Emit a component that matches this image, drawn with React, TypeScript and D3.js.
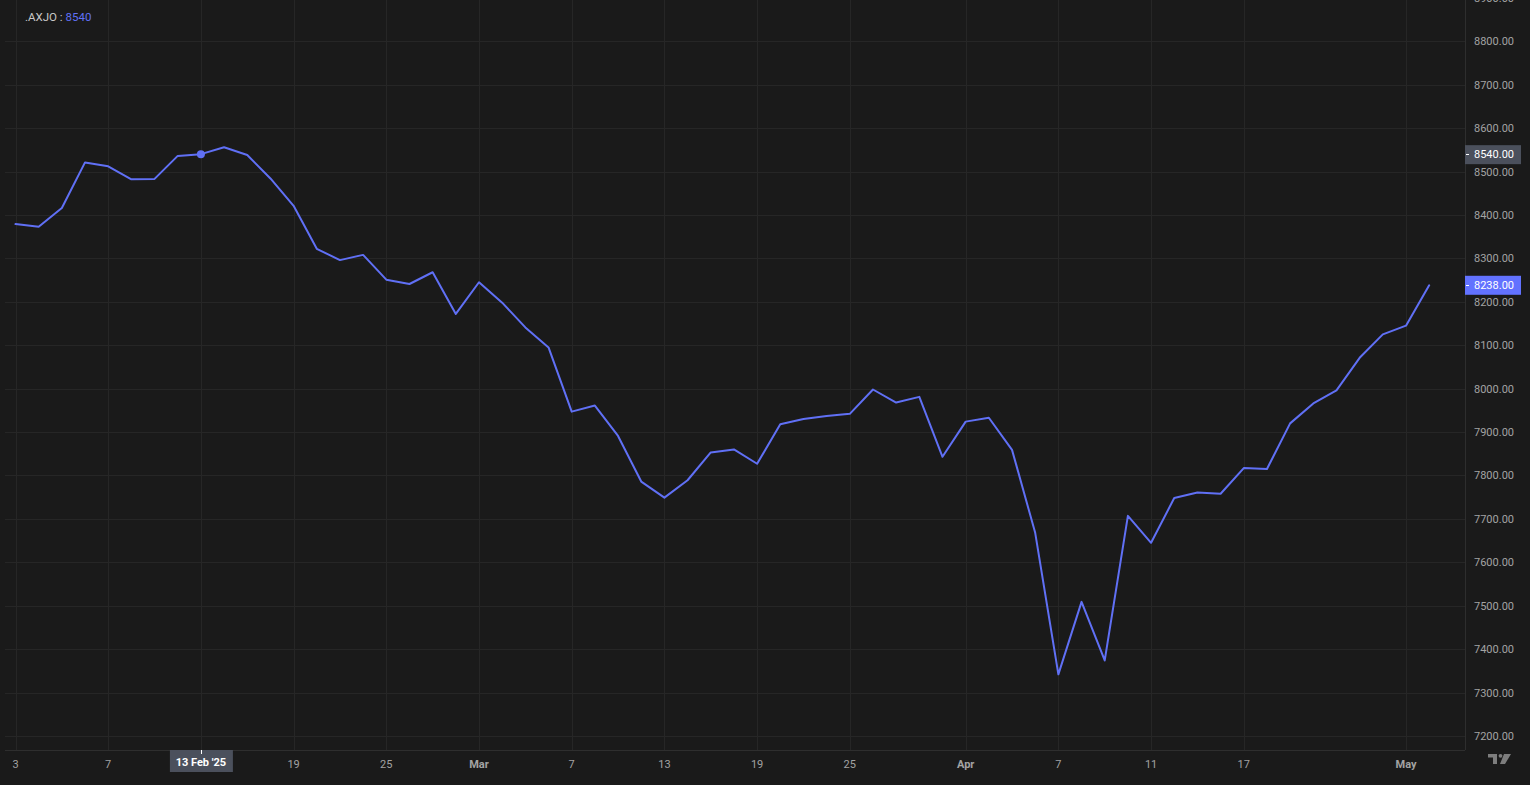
import React, { useEffect } from "react";
import * as d3 from "d3";

const dates: string[] = [
  "2025-02-03","2025-02-04","2025-02-05","2025-02-06","2025-02-07",
  "2025-02-10","2025-02-11","2025-02-12","2025-02-13","2025-02-14",
  "2025-02-17","2025-02-18","2025-02-19","2025-02-20","2025-02-21",
  "2025-02-24","2025-02-25","2025-02-26","2025-02-27","2025-02-28",
  "2025-03-03","2025-03-04","2025-03-05","2025-03-06","2025-03-07",
  "2025-03-10","2025-03-11","2025-03-12","2025-03-13","2025-03-14",
  "2025-03-17","2025-03-18","2025-03-19","2025-03-20","2025-03-21",
  "2025-03-24","2025-03-25","2025-03-26","2025-03-27","2025-03-28",
  "2025-03-31","2025-04-01","2025-04-02","2025-04-03","2025-04-04",
  "2025-04-07","2025-04-08","2025-04-09","2025-04-10","2025-04-11",
  "2025-04-14","2025-04-15","2025-04-16","2025-04-17","2025-04-22",
  "2025-04-23","2025-04-24","2025-04-28","2025-04-29","2025-04-30",
  "2025-05-01","2025-05-02"
];

const closes: number[] = [
  8379, 8373, 8416, 8521, 8512,
  8482, 8483, 8536, 8540, 8556,
  8538, 8484, 8421, 8322, 8296,
  8308, 8251, 8241, 8268, 8172,
  8245, 8198, 8141, 8095, 7947,
  7961, 7891, 7786, 7749, 7789,
  7853, 7860, 7827, 7918, 7930,
  7937, 7942, 7998, 7968, 7981,
  7843, 7924, 7933, 7859, 7668,
  7342, 7509, 7374, 7707, 7645,
  7748, 7761, 7758, 7817, 7815,
  7920, 7966, 7996, 8071, 8125,
  8145, 8238
];

const priceTicks: number[] = [7200, 7300, 7400, 7500, 7600, 7700, 7800, 7900, 8000, 8100, 8200, 8300, 8400, 8500, 8600, 8700, 8800, 8900];

const timeTickIndex: number[] = [0, 4, 8, 12, 16, 20, 24, 28, 32, 36, 41, 45, 49, 53, 60];
const timeTickLabel: string[] = ["3", "7", "13", "19", "25", "Mar", "7", "13", "19", "25", "Apr", "7", "11", "17", "May"];
const timeTickBold: boolean[] = [false, false, false, false, false, true, false, false, false, false, true, false, false, false, true];

const symbol = ".AXJO";
const hoverIndex = 8;
const hoverLabel = "13 Feb '25";

const W = 1530;
const H = 785;
const PLOT_RIGHT = 1465;
const PLOT_BOTTOM = 750;

const BG = "#1a1a1a";
const GRID = "#262626";
const BORDER = "#2e2e2e";
const LINE = "#6070f5";
const TEXT = "#a3a3a3";
const FONT = "Roboto, 'Noto Sans', sans-serif";

export default function App() {
  useEffect(() => {
    document.body.style.margin = "0";
    document.body.style.background = BG;
  }, []);

  const x = d3.scaleLinear().domain([0, 60]).range([15.5, 1406]);
  const y = d3.scaleLinear().domain([7167.8, 8895]).range([PLOT_BOTTOM, 0]);

  const line = d3
    .line<number>()
    .x((_, i) => x(i))
    .y((d) => y(d));

  const lastVal = closes[closes.length - 1];
  const hoverVal = closes[hoverIndex];

  const px = (v: number) => Math.round(x(v)) + 0.5;
  const py = (v: number) => Math.round(y(v)) + 0.5;

  return (
    <svg width={W} height={H} style={{ position: "absolute", left: 0, top: 0, display: "block" }} fontFamily={FONT}>
      <rect x={0} y={0} width={W} height={H} fill={BG} />
      <defs>
        <clipPath id="plot">
          <rect x={0} y={0} width={PLOT_RIGHT} height={PLOT_BOTTOM} />
        </clipPath>
      </defs>

      {/* horizontal grid */}
      {priceTicks.map((t) => (
        <line key={"hg" + t} x1={5} x2={PLOT_RIGHT} y1={py(t)} y2={py(t)} stroke={GRID} strokeWidth={1} />
      ))}
      {/* vertical grid */}
      {timeTickIndex.map((i) => (
        <line key={"vg" + i} x1={px(i)} x2={px(i)} y1={0} y2={PLOT_BOTTOM} stroke={GRID} strokeWidth={1} />
      ))}

      {/* borders */}
      <line x1={5} x2={PLOT_RIGHT} y1={PLOT_BOTTOM + 0.5} y2={PLOT_BOTTOM + 0.5} stroke={BORDER} />
      <line x1={PLOT_RIGHT + 0.5} x2={PLOT_RIGHT + 0.5} y1={0} y2={PLOT_BOTTOM} stroke={BORDER} />

      {/* series */}
      <g clipPath="url(#plot)">
        <path d={line(closes) || ""} fill="none" stroke={LINE} strokeWidth={2} strokeLinejoin="round" strokeLinecap="round" />
        <circle cx={x(hoverIndex)} cy={y(hoverVal)} r={4} fill={LINE} />
      </g>

      {/* legend */}
      <text x={25} y={21} fontSize={11.5} fill="#c8c8c8">
        {symbol + " : "}
        <tspan fill={LINE}>{d3.format("d")(hoverVal)}</tspan>
      </text>

      {/* price axis labels */}
      {priceTicks.map((t) => (
        <text key={"pl" + t} x={1474} y={y(t) + 4} fontSize={11} fill={TEXT}>
          {d3.format(".2f")(t)}
        </text>
      ))}

      {/* hover price label */}
      <rect x={PLOT_RIGHT} y={y(hoverVal) - 9} width={56} height={19} fill="#4b505c" />
      <line x1={1466} x2={1469} y1={Math.round(y(hoverVal)) + 0.5} y2={Math.round(y(hoverVal)) + 0.5} stroke="#ffffff" />
      <text x={1474} y={y(hoverVal) + 4} fontSize={11} fill="#ffffff">
        {d3.format(".2f")(hoverVal)}
      </text>

      {/* last price label */}
      <rect x={PLOT_RIGHT} y={y(lastVal) - 9.5} width={56} height={19} fill="#6272ff" />
      <line x1={1466} x2={1469} y1={Math.round(y(lastVal)) + 0.5} y2={Math.round(y(lastVal)) + 0.5} stroke="#ffffff" />
      <text x={1474} y={y(lastVal) + 4} fontSize={11} fill="#ffffff">
        {d3.format(".2f")(lastVal)}
      </text>

      {/* time axis labels */}
      {timeTickIndex.map((i, k) =>
        i === hoverIndex ? null : (
          <text
            key={"tl" + i}
            x={x(i)}
            y={768}
            fontSize={11}
            textAnchor="middle"
            fill={TEXT}
            fontWeight={timeTickBold[k] ? 700 : 400}
          >
            {timeTickLabel[k]}
          </text>
        )
      )}

      {/* hover time label */}
      <rect x={x(hoverIndex) - 31} y={PLOT_BOTTOM} width={63} height={22} fill="#4b505c" />
      <line x1={px(hoverIndex)} x2={px(hoverIndex)} y1={PLOT_BOTTOM} y2={PLOT_BOTTOM + 4} stroke="#ffffff" />
      <text x={x(hoverIndex)} y={766} fontSize={11} textAnchor="middle" fill="#ffffff" fontWeight={700}>
        {hoverLabel}
      </text>

      {/* TradingView logo */}
      <g fill="#7d7d7d">
        <rect x={1488} y={754} width={9} height={3.5} />
        <rect x={1493} y={754} width={4} height={10} />
        <circle cx={1500.5} cy={755.8} r={1.9} />
        <polygon points="1504,754 1511,754 1505,764 1500,764" />
      </g>
    </svg>
  );
}
